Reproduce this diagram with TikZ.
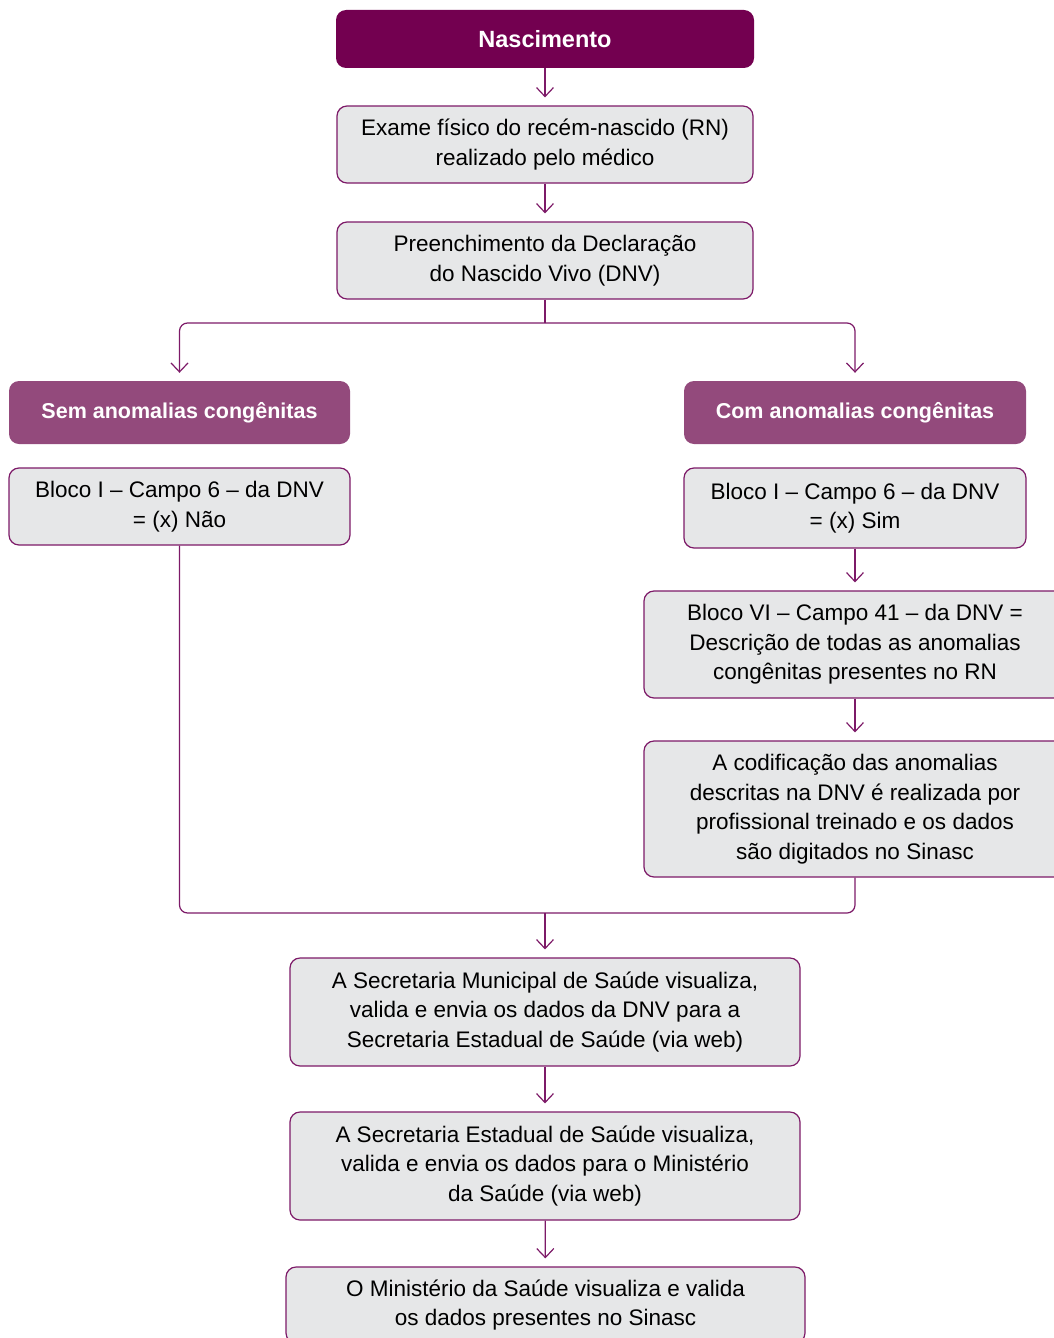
\documentclass[tikz,border=0pt]{standalone}
\usepackage{fontspec}
\setmainfont{Liberation Sans}
\usetikzlibrary{arrows.meta}

\definecolor{roxo}{HTML}{730050}
\definecolor{roxoclaro}{HTML}{934A7C}
\definecolor{linha}{HTML}{7D1A68}
\definecolor{cinza}{HTML}{E6E7E8}

\tikzset{
  caixa/.style={draw=linha,fill=cinza,line width=1.2pt,rounded corners=10pt,
    align=center,inner sep=0pt,font=\fontsize{22.5}{29.5}\selectfont},
  titulo/.style={fill=roxoclaro,rounded corners=10pt,align=center,inner sep=0pt,
    text=white,font=\fontsize{21.5}{26}\selectfont\bfseries},
  seta/.style={draw=linha,line width=1.2pt,-{Straight Barb[length=9pt,width=17pt]},shorten >=8pt},
  liga/.style={draw=linha,line width=1.2pt,rounded corners=8pt}
}

\begin{document}
\begin{tikzpicture}[x=1pt,y=-1pt]
\useasboundingbox (0,0) rectangle (1054,1338);

\node[titulo,fill=roxo,minimum width=418pt,minimum height=58pt,
  font=\fontsize{23.5}{28}\selectfont\bfseries] (b1) at (545,39) {Nascimento};
\node[caixa,minimum width=416pt,minimum height=77pt] (b2) at (545,144.5)
  {Exame físico do recém-nascido (RN)\\realizado pelo médico};
\node[caixa,minimum width=416pt,minimum height=77pt] (b3) at (545,260.5)
  {Preenchimento da Declaração\\do Nascido Vivo (DNV)};
\node[titulo,minimum width=341pt,minimum height=63pt] (b4) at (179.5,412.5) {Sem anomalias congênitas};
\node[titulo,minimum width=342pt,minimum height=63pt] (b5) at (855,412.5) {Com anomalias congênitas};
\node[caixa,minimum width=341pt,minimum height=77pt] (b6) at (179.5,506.5)
  {Bloco I -- Campo 6 -- da DNV\\= (x) Não};
\node[caixa,minimum width=342pt,minimum height=80pt] (b7) at (855,508)
  {Bloco I -- Campo 6 -- da DNV\\= (x) Sim};
\node[caixa,minimum width=422pt,minimum height=107pt] (b8) at (855,644.5)
  {Bloco VI -- Campo 41 -- da DNV =\\Descrição de todas as anomalias\\congênitas presentes no RN};
\node[caixa,minimum width=422pt,minimum height=136pt] (b9) at (855,809)
  {A codificação das anomalias\\descritas na DNV é realizada por\\profissional treinado e os dados\\são digitados no Sinasc};
\node[caixa,minimum width=510pt,minimum height=108pt] (b10) at (545,1012)
  {A Secretaria Municipal de Saúde visualiza,\\valida e envia os dados da DNV para a\\Secretaria Estadual de Saúde (via web)};
\node[caixa,minimum width=510pt,minimum height=108pt] (b11) at (545,1166)
  {A Secretaria Estadual de Saúde visualiza,\\valida e envia os dados para o Ministério\\da Saúde (via web)};
\node[caixa,minimum width=519pt,minimum height=76pt] (b12) at (545.5,1305)
  {O Ministério da Saúde visualiza e valida\\os dados presentes no Sinasc};

\coordinate (j1) at (545,323);
\coordinate (j2) at (545,913);

\draw[seta] (b1) -- (b2);
\draw[seta] (b2) -- (b3);
\draw[liga] (b3) -- (j1);
\draw[seta,liga] (j1) -| (b4);
\draw[seta,liga] (j1) -| (b5);
\draw[seta] (b7) -- (b8);
\draw[seta] (b8) -- (b9);
\draw[liga] (b9.south) |- (j2) -| (b6.south);
\draw[seta] (j2) -- (b10);
\draw[seta] (b10) -- (b11);
\draw[seta] (b11) -- (b12);
\end{tikzpicture}
\end{document}
